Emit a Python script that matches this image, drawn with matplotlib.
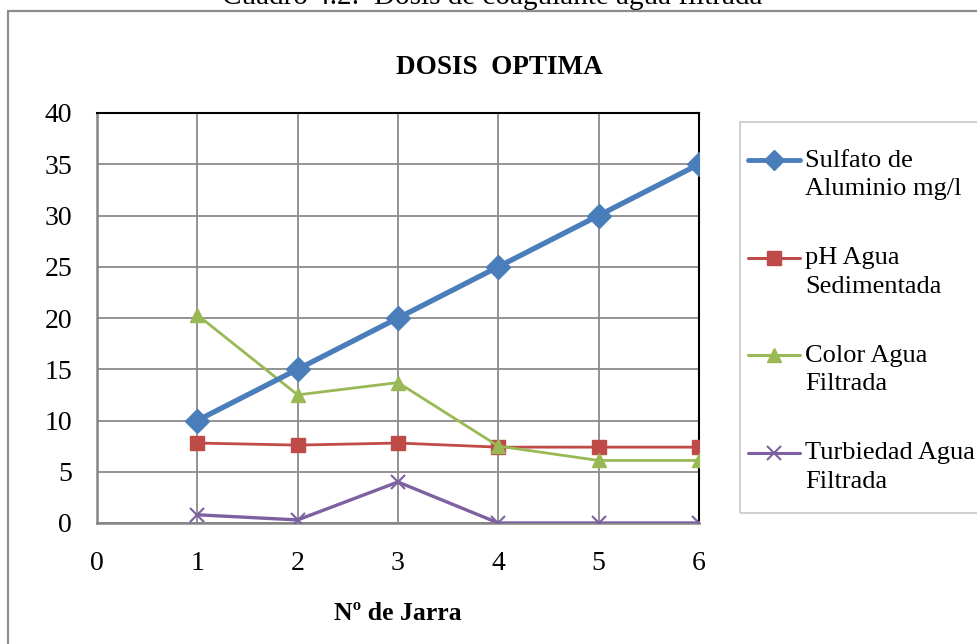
import matplotlib
matplotlib.use("Agg")
import matplotlib.pyplot as plt
from matplotlib.patches import Rectangle
from matplotlib.lines import Line2D

plt.rcParams['font.family'] = ['Liberation Serif', 'DejaVu Serif']

jarras = [1, 2, 3, 4, 5, 6]
sulfato = [10, 15, 20, 25, 30, 35]
ph = [7.8, 7.6, 7.8, 7.4, 7.4, 7.4]
color = [20.3, 12.5, 13.7, 7.5, 6.1, 6.1]
turbiedad = [0.8, 0.3, 4.0, 0.0, 0.0, 0.0]
labels = ["Sulfato de\nAluminio mg/l", "pH Agua\nSedimentada", "Color Agua\nFiltrada", "Turbiedad Agua\nFiltrada"]
xticks = [0, 1, 2, 3, 4, 5, 6]
yticks = [0, 5, 10, 15, 20, 25, 30, 35, 40]

W, H = 977, 644
fig = plt.figure(figsize=(W / 100, H / 100), dpi=100)

# outer chart border
fig.patches.append(Rectangle((8 / W, -0.05), 1.1, 1 - 11 / H + 0.05, transform=fig.transFigure,
                             fill=False, edgecolor='#8c8c8c', linewidth=1.6))
# legend frame
fig.patches.append(Rectangle((740 / W, 1 - 513 / H), 0.3, (513 - 122) / H, transform=fig.transFigure,
                             fill=False, edgecolor='#c8c8c8', linewidth=1.2))

fig.text(492 / W, 1 - 4 / H, "Cuadro 4.2:  Dosis de coagulante agua filtrada", ha='center', va='baseline',
         fontsize=21, color='black')

ax = fig.add_axes([97 / W, 1 - 523 / H, (699 - 97) / W, (523 - 113) / H])

styles = [
    dict(color='#4A7EBB', lw=3.8, marker='D', ms=12, zorder=5),
    dict(color='#BE4B48', lw=2.0, marker='s', ms=10, zorder=4),
    dict(color='#98B954', lw=2.0, marker='^', ms=10.5, zorder=4),
    dict(color='#7D60A0', lw=2.4, marker='x', ms=10, mew=1.5, zorder=4),
]
series = [sulfato, ph, color, turbiedad]
for vals, st in zip(series, styles):
    ax.plot(jarras, vals, **st)

ax.set_xlim(0, 6)
ax.set_ylim(0, 40)
ax.set_xticks(xticks)
ax.set_yticks(yticks)
ax.grid(True, color='#8a8a8a', lw=1.3)
ax.set_axisbelow(True)
ax.tick_params(length=0, labelsize=20)
ax.tick_params(axis='y', pad=18)
ax.tick_params(axis='x', pad=20)
for s in ['left', 'bottom']:
    ax.spines[s].set_color('#858585')
    ax.spines[s].set_linewidth(1.8)
for s in ['top', 'right']:
    ax.spines[s].set_color('black')
    ax.spines[s].set_linewidth(1.5)
ax.spines['bottom'].set_zorder(3)

fig.text(499 / W, 1 - 68 / H, "DOSIS  OPTIMA", fontsize=19.5, fontweight='bold', ha='center', va='center')
fig.text(398 / W, 1 - 614 / H, "Nº de Jarra", fontsize=18.5, fontweight='bold', ha='center', va='center')

# legend (handles aligned with first text line, as in the reference)
leg_lw = [3.5, 2.2, 2.2, 2.2]
for i, (lab, st) in enumerate(zip(labels, styles)):
    yline = 1 - (160 + 97.5 * i) / H
    fig.add_artist(Line2D([748 / W, 800 / W], [yline, yline], transform=fig.transFigure,
                          color=st['color'], lw=leg_lw[i], solid_capstyle='round'))
    fig.add_artist(Line2D([774 / W], [yline], transform=fig.transFigure, color=st['color'],
                          marker=st['marker'], ms=10, mew=st.get('mew', 1.0), linestyle='none'))
    fig.text(805 / W, 1 - (175 + 97.5 * i) / H, lab, fontsize=19, ha='left', va='center',
             linespacing=1.4)

fig.savefig("out.png", dpi=100)
